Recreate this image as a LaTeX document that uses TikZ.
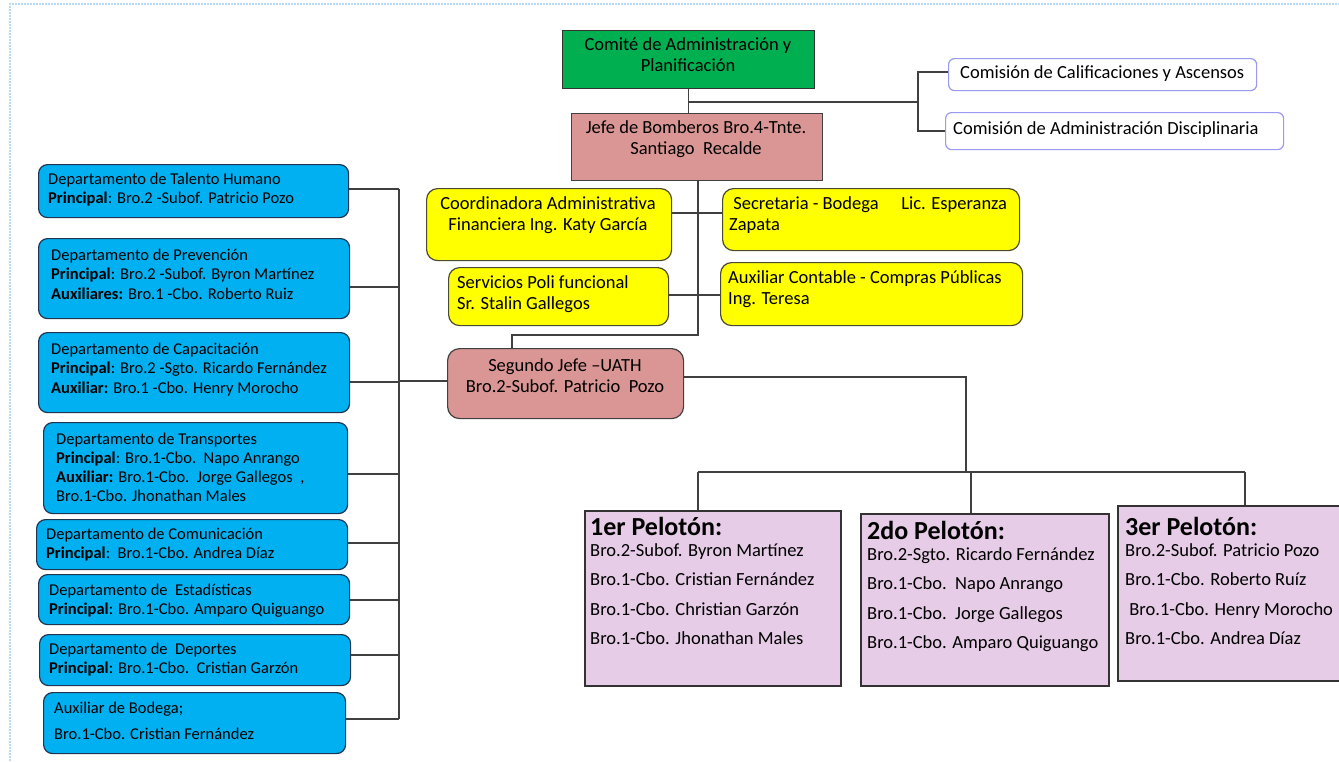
\documentclass[tikz,border=0pt]{standalone}
\usepackage{fontspec}
\setmainfont{Carlito}
\definecolor{deptblue}{HTML}{00B0F0}
\definecolor{deptedge}{HTML}{1F3550}
\definecolor{ylw}{HTML}{FFFF00}
\definecolor{ylwedge}{HTML}{4A4A30}
\definecolor{pinkc}{HTML}{D99694}
\definecolor{lav}{HTML}{E6CCE6}
\definecolor{comedge}{HTML}{9A9AF0}
\definecolor{grn}{HTML}{00B050}
\definecolor{linegray}{HTML}{404040}
\definecolor{borderblue}{HTML}{B8DAFA}
\newcommand{\linesL}[1]{\begin{tabular}[t]{@{}l@{}}#1\end{tabular}}
\newcommand{\linesC}[1]{\begin{tabular}[t]{@{}c@{}}#1\end{tabular}}
\begin{document}
\begin{tikzpicture}[x=1pt,y=-1pt,
  conn/.style={draw=linegray, line width=1.4pt},
  box/.style={anchor=north west, inner sep=0pt, line width=1.2pt},
  deptbox/.style={box, rounded corners=9pt, fill=deptblue, draw=deptedge},
  ylwbox/.style={box, rounded corners=11pt, fill=ylw, draw=ylwedge},
  pinkbox/.style={box, fill=pinkc, draw=black!75},
  grnbox/.style={box, fill=grn, draw=black!80},
  combox/.style={box, rounded corners=6pt, fill=white, draw=comedge},
  pelbox/.style={box, fill=lav, draw=black!80, line width=1.5pt},
  tC/.style={inner sep=0pt, font=\fontsize{18.5}{21}\selectfont, anchor=base},
  tL/.style={inner sep=0pt, font=\fontsize{18.5}{21.5}\selectfont, anchor=base west},
  tD/.style={inner sep=0pt, font=\fontsize{16.5}{19}\selectfont, anchor=base west},
  tP/.style={inner sep=0pt, font=\fontsize{18.5}{29.5}\selectfont, anchor=base west},
  tH/.style={inner sep=0pt, font=\fontsize{26}{30}\selectfont\bfseries, anchor=base west}]
\useasboundingbox (0,0) rectangle (1339,761);
\begin{scope}
\clip (0,0) rectangle (1339,761);
\draw[borderblue, line width=2pt, dash pattern=on 2pt off 1pt] (10,761) -- (10,4) -- (1339,4);

% ---- top boxes
\node[grnbox, minimum width=252pt, minimum height=58pt] (comite) at (562,30) {};
\node[tC] (comiteT) at (688,50) {\linesC{Comité de Administración y\\Planificación}};
\node[pinkbox, minimum width=251pt, minimum height=67pt] (jefe) at (571,113) {};
\node[tC] (jefeT) at (696,133) {\linesC{Jefe de Bomberos Bro.4-Tnte.\\Santiago\ \ Recalde}};
\node[combox, minimum width=308pt, minimum height=32pt] (com1) at (948,58) {};
\node[tL] (com1T) at (960,78) {Comisión de Calificaciones y Ascensos};
\node[combox, minimum width=338pt, minimum height=37pt] (com2) at (945,112) {};
\node[tL] (com2T) at (953,134) {Comisión de Administración Disciplinaria};

% ---- yellow boxes
\node[ylwbox, minimum width=245pt, minimum height=72pt] (coord) at (426,188) {};
\node[tC] (coordT) at (548,209) {\linesC{Coordinadora Administrativa\\Financiera Ing. Katy García}};
\node[ylwbox, minimum width=297pt, minimum height=62pt] (secr) at (722,188) {};
\node[tL] (secrT) at (729,209) {\linesL{\ Secretaria - Bodega\quad\ Lic. Esperanza\\Zapata}};
\node[ylwbox, minimum width=220pt, minimum height=58pt] (serv) at (448,267) {};
\node[tL] (servT) at (457,288) {\linesL{Servicios Poli funcional\\Sr. Stalin Gallegos}};
\node[ylwbox, minimum width=302pt, minimum height=63pt] (aux) at (720,262) {};
\node[tL] (auxT) at (728,283) {\linesL{Auxiliar Contable - Compras Públicas\\Ing. Teresa}};

% ---- segundo jefe
\node[pinkbox, rounded corners=12pt, minimum width=236pt, minimum height=70pt] (seg) at (447,348) {};
\node[tC] (segT) at (565,371) {\linesC{Segundo Jefe –UATH\\Bro.2-Subof. Patricio\ \ Pozo}};

% ---- departments
\node[deptbox, minimum width=310pt, minimum height=53pt] (d1) at (38,164) {};
\node[tD] (d1T) at (48,184) {\linesL{Departamento de Talento Humano\\\textbf{Principal}: Bro.2 -Subof. Patricio Pozo}};
\node[deptbox, minimum width=311pt, minimum height=80pt] (d2) at (38,238) {};
\node[tD] (d2T) at (51,260) {\linesL{Departamento de Prevención\\\textbf{Principal}: Bro.2 -Subof. Byron Martínez\\[1pt]\textbf{Auxiliares:} Bro.1 -Cbo. Roberto Ruiz}};
\node[deptbox, minimum width=311pt, minimum height=80pt] (d3) at (38,332) {};
\node[tD] (d3T) at (51,354) {\linesL{Departamento de Capacitación\\\textbf{Principal}: Bro.2 -Sgto. Ricardo Fernández\\[1pt]\textbf{Auxiliar:} Bro.1 -Cbo. Henry Morocho}};
\node[deptbox, minimum width=304pt, minimum height=91pt] (d4) at (43,422) {};
\node[tD] (d4T) at (56,444) {\linesL{Departamento de Transportes\\\textbf{Principal}: Bro.1-Cbo.\ \ Napo Anrango\\\textbf{Auxiliar:} Bro.1-Cbo.\ \ Jorge Gallegos\ \ ,\\Bro.1-Cbo. Jhonathan Males}};
\node[deptbox, minimum width=311pt, minimum height=50pt] (d5) at (36,519) {};
\node[tD] (d5T) at (46,539) {\linesL{Departamento de Comunicación\\\textbf{Principal}:\ \ Bro.1-Cbo. Andrea Díaz}};
\node[deptbox, minimum width=311pt, minimum height=50pt] (d6) at (38,574) {};
\node[tD] (d6T) at (49,595) {\linesL{Departamento de\ \ Estadísticas\\\textbf{Principal}: Bro.1-Cbo. Amparo Quiguango}};
\node[deptbox, minimum width=311pt, minimum height=51pt] (d7) at (39,634) {};
\node[tD] (d7T) at (49,654) {\linesL{Departamento de\ \ Deportes\\\textbf{Principal}: Bro.1-Cbo.\ \ Cristian Garzón}};
\node[deptbox, minimum width=302pt, minimum height=61pt] (d8) at (43,692) {};
\node[tD] (d8T) at (54,713) {\linesL{Auxiliar de Bodega;\\[7pt]Bro.1-Cbo. Cristian Fernández}};

% ---- pelotones
\node[pelbox, minimum width=256pt, minimum height=175pt] (p1) at (584,510) {};
\node[tH] (p1H) at (590,535) {1er Pelotón:};
\node[tP] (p1T) at (590,556) {\linesL{Bro.2-Subof. Byron Martínez\\Bro.1-Cbo. Cristian Fernández\\Bro.1-Cbo. Christian Garzón\\Bro.1-Cbo. Jhonathan Males}};
\node[pelbox, minimum width=248pt, minimum height=172pt] (p2) at (860,513) {};
\node[tH] (p2H) at (867,539) {2do Pelotón:};
\node[tP] (p2T) at (867,560) {\linesL{Bro.2-Sgto. Ricardo Fernández\\Bro.1-Cbo.\ \ Napo Anrango\\Bro.1-Cbo.\ \ Jorge Gallegos\\Bro.1-Cbo. Amparo Quiguango}};
\node[pelbox, minimum width=228pt, minimum height=175pt] (p3) at (1117,505) {};
\node[tH] (p3H) at (1125,535) {3er Pelotón:};
\node[tP] (p3T) at (1125,556) {\linesL{Bro.2-Subof. Patricio Pozo\\Bro.1-Cbo. Roberto Ruíz\\\ Bro.1-Cbo. Henry Morocho\\Bro.1-Cbo. Andrea Díaz}};

% ---- connectors top
\coordinate (cbus) at (918,102);
\draw[conn] (comite.south) -- (comite.south |- jefe.north);
\draw[conn] (comite.south |- cbus) -- (cbus);
\coordinate (cb1) at (918,72);
\coordinate (cb2) at (918,131);
\draw[conn] (com1.west |- cb1) -- (cb1) -- (cb2) -- (com2.west |- cb2);

% ---- spine
\coordinate (sp) at (698,335);
\coordinate (segin) at (512,335);
\draw[conn] (jefe.south -| sp) -- (sp) -- (segin) -- (segin |- seg.north);
\coordinate (ya) at (698,213);
\coordinate (yb) at (698,295);
\draw[conn] (coord.east |- ya) -- (secr.west |- ya);
\draw[conn] (serv.east |- yb) -- (aux.west |- yb);

% ---- pelotones bus
\coordinate (sr) at (966,377);
\coordinate (pb) at (966,472);
\coordinate (pl) at (698,472);
\coordinate (pm) at (971,472);
\coordinate (pr) at (1245,472);
\draw[conn] (seg.east |- sr) -- (sr) -- (pb);
\draw[conn] (pl) -- (pr);
\draw[conn] (pl) -- (pl |- p1.north);
\draw[conn] (pm) -- (pm |- p2.north);
\draw[conn] (pr) -- (pr |- p3.north);

% ---- department bus
\coordinate (lt) at (399,189);
\coordinate (lbt) at (399,719);
\draw[conn] (lt) -- (lbt);
\coordinate (sl) at (399,381);
\draw[conn] (sl) -- (seg.west |- sl);
\coordinate (l1) at (399,189);
\coordinate (l2) at (399,287);
\coordinate (l3) at (399,382);
\coordinate (l4) at (399,474);
\coordinate (l5) at (399,543);
\coordinate (l6) at (399,600);
\coordinate (l7) at (399,655);
\coordinate (l8) at (399,719);
\draw[conn] (d1.east |- l1) -- (l1);
\draw[conn] (d2.east |- l2) -- (l2);
\draw[conn] (d3.east |- l3) -- (l3);
\draw[conn] (d4.east |- l4) -- (l4);
\draw[conn] (d5.east |- l5) -- (l5);
\draw[conn] (d6.east |- l6) -- (l6);
\draw[conn] (d7.east |- l7) -- (l7);
\draw[conn] (d8.east |- l8) -- (l8);
\end{scope}
\end{tikzpicture}
\end{document}
